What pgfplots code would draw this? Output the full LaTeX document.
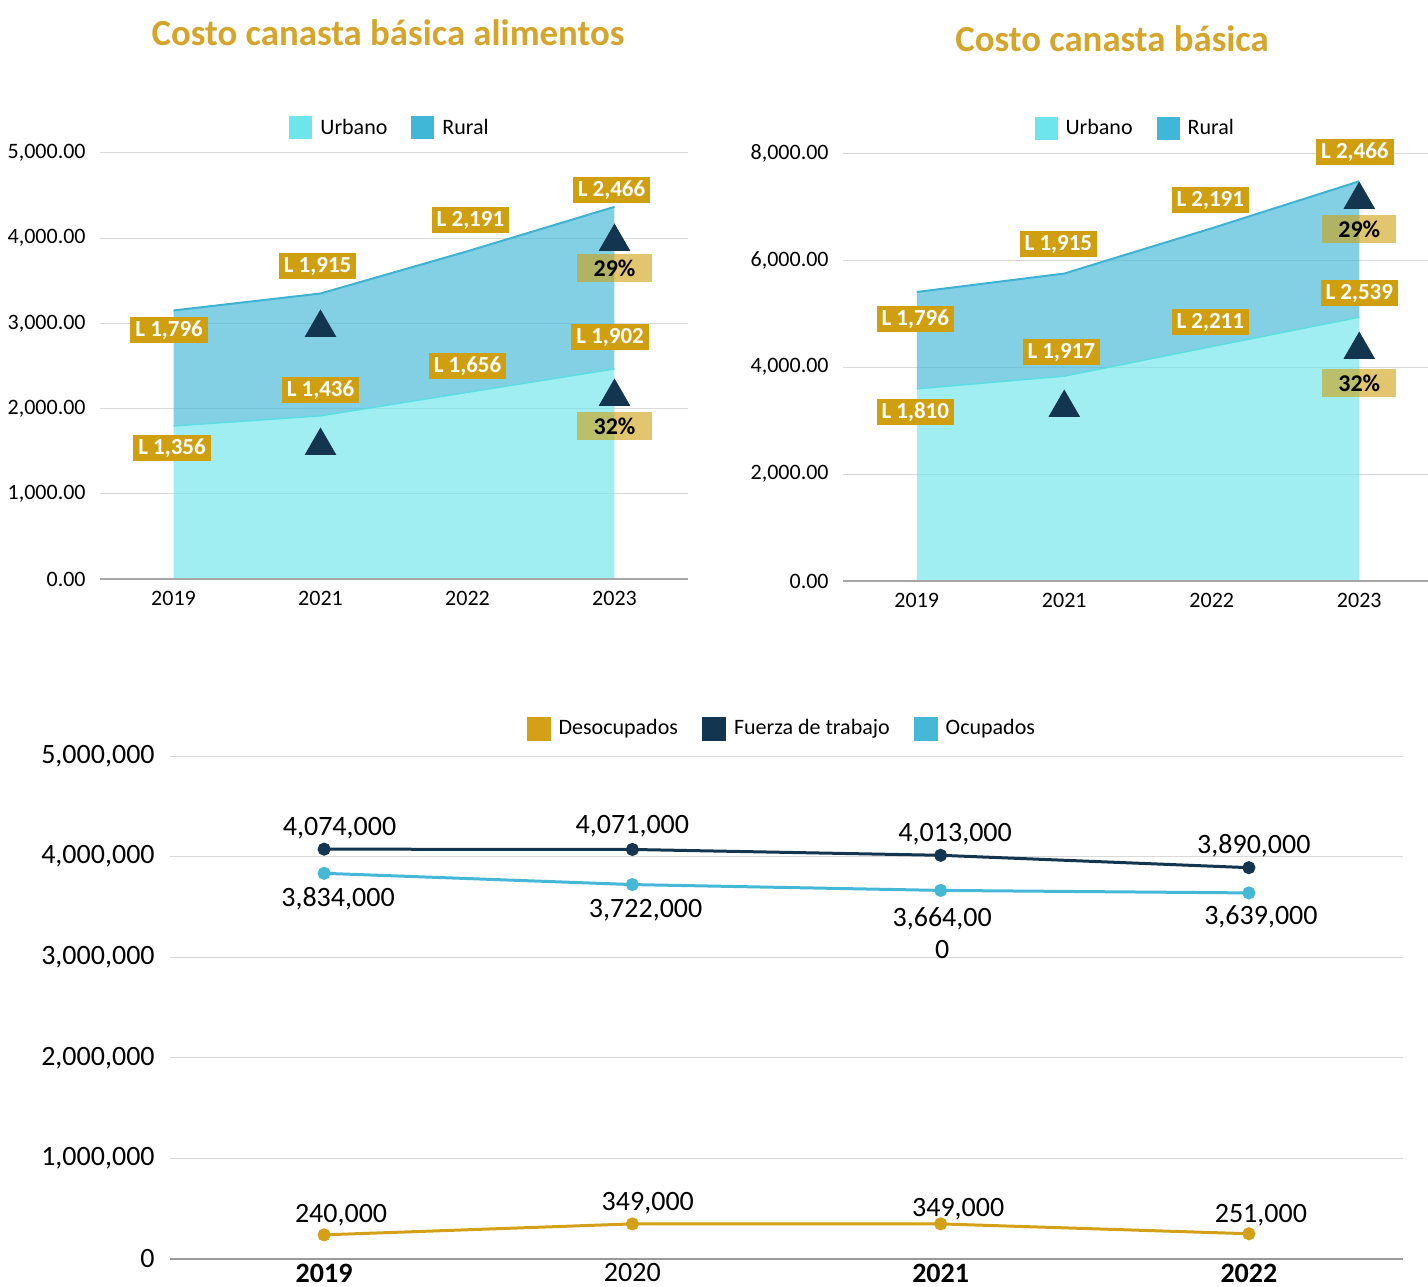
\documentclass[border=0pt]{standalone}
\usepackage{fontspec}
\setmainfont{Carlito}
\usepackage{pgfplots}
\usepackage{pgfplotstable}
\pgfplotsset{compat=1.18}
\usepgfplotslibrary{fillbetween}

\definecolor{gold}{HTML}{CF9F0F}
\definecolor{titlegold}{HTML}{D4A52A}
\definecolor{navy}{HTML}{14354F}
\definecolor{ocup}{HTML}{45B8D8}
\definecolor{desoc}{HTML}{D4A017}
\definecolor{urbkey}{HTML}{6DE5EA}
\definecolor{rurkey}{HTML}{41B7D7}
\definecolor{urbline}{HTML}{5CDDE4}
\definecolor{rurline}{HTML}{3DB2D3}
\definecolor{gridgray}{HTML}{D9D9D9}
\definecolor{basegray}{HTML}{A6A6A6}

% canasta basica alimentos
\pgfplotstableread{
x u r
0 1796 1356
1 1915 1436
2 2191 1656
3 2466 1902
}\cba
% canasta basica
\pgfplotstableread{
x u r
0 3592 1810
1 3830 1917
2 4382 2211
3 4932 2539
}\cb
\pgfplotstableread{
x desoc fuerza ocup
0 240000 4074000 3834000
1 349000 4071000 3722000
2 349000 4013000 3664000
3 251000 3890000 3639000
}\empleo

\pgfplotsset{
  panel/.style={
    scale only axis, anchor=south west, clip=false,
    xmin=-0.5, xmax=3.5, ymin=0,
    xtick={0,1,2,3},
    axis line style={draw=none},
    tick style={draw=none},
    ymajorgrids,
    major grid style={gridgray, line width=0.5pt},
    scaled y ticks=false,
    /pgf/number format/assume math mode=true,
    legend style={draw=none, fill=none, anchor=center, legend columns=-1,
      font=\fontsize{11}{13}\selectfont,
      /tikz/every odd column/.append style={column sep=2pt},
      /tikz/every even column/.append style={column sep=10pt}},
    legend image code/.code={\fill[##1, draw=none] (0pt,-5.75pt) rectangle (11.5pt,5.75pt);},
  },
  money/.style={
    yticklabel style={/pgf/number format/fixed, /pgf/number format/fixed zerofill,
      /pgf/number format/precision=2, /pgf/number format/1000 sep={,}},
    ticklabel style={font=\fontsize{11}{13}\selectfont},
    yticklabel style={anchor=east, inner sep=0pt, xshift=-7pt},
    xticklabel style={anchor=center, inner sep=0pt, yshift=-9.5pt},
  },
}
\tikzset{
  lab/.style={fill=gold, text=white, font=\bfseries\fontsize{11.5}{13}\selectfont,
    inner xsep=2.5pt, inner ysep=2pt, text height=7.8pt, text depth=1.6pt},
  pct/.style={fill=gold, fill opacity=0.6, text opacity=1, text=black,
    font=\bfseries\fontsize{12}{14}\selectfont, minimum width=37pt, minimum height=14pt, inner sep=0pt},
  blab/.style={font=\fontsize{14}{16}\selectfont, inner sep=0pt},
  ttl/.style={font=\bfseries\fontsize{18.4}{20}\selectfont, text=titlegold},
}

\begin{document}
\begin{tikzpicture}

\node[ttl] at (194pt,626.5pt) {Costo canasta básica alimentos};
\node[ttl] at (556pt,623.5pt) {Costo canasta básica};

% ---- top left
\begin{axis}[panel, money, at={(50pt,353.5pt)}, width=294pt, height=213pt,
  ymax=5000, ytick={0,1000,...,5000},
  xticklabels={2019,2021,2022,2023},
  legend style={at={(0.495,1.0587)}}]
  \addlegendimage{fill=urbkey}\addlegendentry{Urbano}
  \addlegendimage{fill=rurkey}\addlegendentry{Rural}
  \addplot[name path=U, draw=urbline, line width=0.75pt, forget plot] table[x=x, y=u] {\cba};
  \addplot[name path=T, draw=rurline, line width=1pt, forget plot] table[x=x, y expr=\thisrow{u}+\thisrow{r}] {\cba};
  \path[name path=B] (axis cs:0,0) -- (axis cs:3,0);
  \addplot[fill=urbkey, fill opacity=0.65, draw=none, forget plot] fill between[of=U and B];
  \addplot[fill=rurkey, fill opacity=0.65, draw=none, forget plot] fill between[of=T and U];
  \draw[basegray, line width=0.6pt] (rel axis cs:0,0) -- (rel axis cs:1,0);
  \addplot[only marks, mark=triangle*, mark size=8.7pt, color=navy, forget plot]
    coordinates {(1,2950) (1,1565) (3,3959) (3,2140)};
  \node[lab] at (axis cs:-0.03,2923) {L 1,796};
  \node[lab] at (axis cs:0.98,3674) {L 1,915};
  \node[lab] at (axis cs:2.02,4214) {L 2,191};
  \node[lab] at (axis cs:2.98,4566) {L 2,466};
  \node[lab] at (axis cs:-0.01,1538) {L 1,356};
  \node[lab] at (axis cs:1,2218) {L 1,436};
  \node[lab] at (axis cs:2,2500) {L 1,656};
  \node[lab] at (axis cs:2.97,2840) {L 1,902};
  \node[pct] at (axis cs:3,3650) {29\%};
  \node[pct] at (axis cs:3,1796) {32\%};
\end{axis}

% ---- top right
\begin{axis}[panel, money, at={(421.5pt,352.5pt)}, width=295pt, height=214pt,
  ymax=8000, ytick={0,2000,...,8000},
  xticklabels={2019,2021,2022,2023},
  legend style={at={(0.497,1.058)}}]
  \addlegendimage{fill=urbkey}\addlegendentry{Urbano}
  \addlegendimage{fill=rurkey}\addlegendentry{Rural}
  \addplot[name path=U, draw=urbline, line width=0.75pt, forget plot] table[x=x, y=u] {\cb};
  \addplot[name path=T, draw=rurline, line width=1pt, forget plot] table[x=x, y expr=\thisrow{u}+\thisrow{r}] {\cb};
  \path[name path=B] (axis cs:0,0) -- (axis cs:3,0);
  \addplot[fill=urbkey, fill opacity=0.65, draw=none, forget plot] fill between[of=U and B];
  \addplot[fill=rurkey, fill opacity=0.65, draw=none, forget plot] fill between[of=T and U];
  \draw[basegray, line width=0.6pt] (rel axis cs:0,0) -- (rel axis cs:1,0);
  \addplot[only marks, mark=triangle*, mark size=8.7pt, color=navy, forget plot]
    coordinates {(3,7127) (3,4323) (1,3239)};
  \node[lab] at (axis cs:-0.01,4897) {L 1,796};
  \node[lab] at (axis cs:0.96,6299) {L 1,915};
  \node[lab] at (axis cs:1.99,7121) {L 2,191};
  \node[lab] at (axis cs:2.97,8019) {L 2,466};
  \node[lab] at (axis cs:-0.01,3159) {L 1,810};
  \node[lab] at (axis cs:0.98,4280) {L 1,917};
  \node[lab] at (axis cs:1.99,4841) {L 2,211};
  \node[lab] at (axis cs:3,5383) {L 2,539};
  \node[pct] at (axis cs:3,6579) {29\%};
  \node[pct] at (axis cs:3,3701) {32\%};
\end{axis}

% ---- bottom
\begin{axis}[panel, at={(85pt,13.5pt)}, width=616.5pt, height=251.5pt,
  ymax=5000000, ytick={0,1000000,2000000,3000000,4000000,5000000},
  yticklabel style={/pgf/number format/fixed, /pgf/number format/precision=0,
    /pgf/number format/1000 sep={,}},
  ticklabel style={font=\fontsize{14}{16}\selectfont},
  yticklabel style={anchor=east, inner sep=0pt, xshift=-7.5pt},
  xticklabel style={anchor=center, inner sep=0pt, yshift=-7pt},
  xticklabels={\textbf{2019},2020,\textbf{2021},\textbf{2022}},
  legend style={at={(0.497,1.054)}},
  legend image code/.code={\fill[#1, draw=none] (0pt,-6pt) rectangle (12pt,6pt);}]
  \addlegendimage{fill=desoc}\addlegendentry{Desocupados}
  \addlegendimage{fill=navy}\addlegendentry{Fuerza de trabajo}
  \addlegendimage{fill=ocup}\addlegendentry{Ocupados}
  \draw[gray!80, line width=0.6pt] (rel axis cs:0,0) -- (rel axis cs:1,0);
  \addplot[desoc, line width=1.5pt, mark=*, mark size=2.5pt, forget plot] table[x=x, y=desoc] {\empleo};
  \addplot[navy, line width=1.5pt, mark=*, mark size=2.5pt, forget plot] table[x=x, y=fuerza] {\empleo};
  \addplot[ocup, line width=1.5pt, mark=*, mark size=2.5pt, forget plot] table[x=x, y=ocup] {\empleo};
  \node[blab] at (axis cs:0.05,4284000) {4,074,000};
  \node[blab] at (axis cs:1.0,4304000) {4,071,000};
  \node[blab] at (axis cs:2.047,4225000) {4,013,000};
  \node[blab] at (axis cs:3.016,4105000) {3,890,000};
  \node[blab] at (axis cs:0.045,3579000) {3,834,000};
  \node[blab] at (axis cs:1.043,3469000) {3,722,000};
  \node[blab, align=center] at (axis cs:2.005,3241000) {3,664,00\\0};
  \node[blab] at (axis cs:3.039,3400000) {3,639,000};
  \node[blab] at (axis cs:0.055,437000) {240,000};
  \node[blab] at (axis cs:1.05,557000) {349,000};
  \node[blab] at (axis cs:2.057,497000) {349,000};
  \node[blab] at (axis cs:3.039,437000) {251,000};
\end{axis}

\pgfresetboundingbox
\path[use as bounding box] (0,0) rectangle (714pt,643pt);
\end{tikzpicture}
\end{document}
